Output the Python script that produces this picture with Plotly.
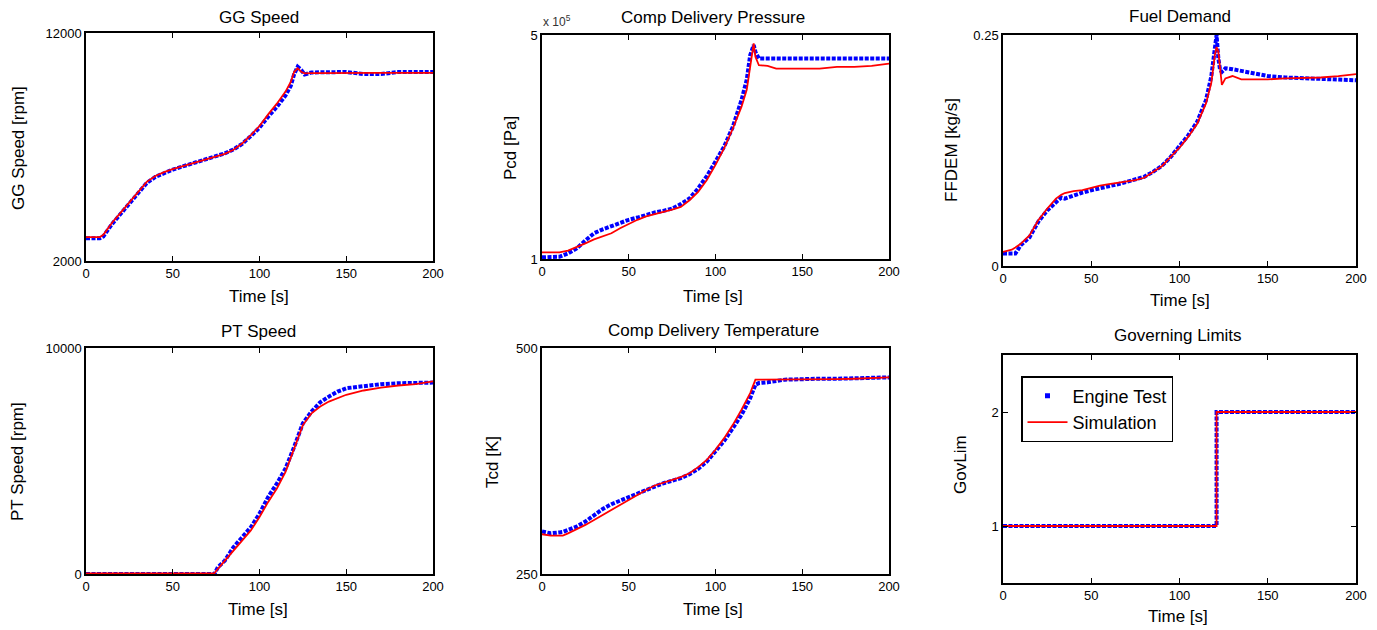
import plotly.graph_objects as go

# ---------------- data ----------------
t_gg = [0, 5, 8, 10, 15, 20, 25, 30, 35, 40, 45, 50, 55, 60, 65, 70, 75, 80, 85, 90, 95, 100,
        105, 110, 115, 118, 120, 122, 124, 126, 130, 140, 150, 160, 170, 180, 190, 200]
gg_test = [3000, 3000, 3000, 3080, 3620, 4070, 4520, 4960, 5420, 5690, 5870, 6010, 6130, 6250,
           6370, 6480, 6580, 6720, 6890, 7140, 7480, 7850, 8330, 8760, 9260, 9680, 10200, 10520,
           10380, 10180, 10270, 10290, 10290, 10200, 10200, 10290, 10290, 10290]
gg_sim = [3050, 3050, 3050, 3150, 3680, 4120, 4570, 5010, 5470, 5730, 5900, 6030, 6140, 6250,
          6360, 6460, 6560, 6700, 6880, 7150, 7520, 7920, 8430, 8900, 9430, 9850, 10300, 10450,
          10300, 10230, 10240, 10250, 10250, 10250, 10250, 10250, 10250, 10250]

t_pcd = [0, 5, 10, 15, 20, 25, 30, 35, 40, 45, 50, 55, 60, 65, 70, 75, 80, 85, 90, 95, 100, 105,
         110, 115, 118, 120, 122, 123, 125, 130, 135, 140, 150, 160, 170, 180, 190, 200]
pcd_test = [1.03, 1.03, 1.04, 1.10, 1.19, 1.33, 1.46, 1.53, 1.59, 1.65, 1.70, 1.74, 1.79, 1.83,
            1.86, 1.90, 1.98, 2.08, 2.26, 2.48, 2.74, 3.01, 3.36, 3.84, 4.20, 4.64, 4.82, 4.70,
            4.58, 4.58, 4.57, 4.57, 4.57, 4.58, 4.57, 4.58, 4.58, 4.58]
pcd_sim = [1.12, 1.12, 1.12, 1.15, 1.21, 1.28, 1.35, 1.41, 1.46, 1.55, 1.63, 1.70, 1.76, 1.80,
           1.83, 1.88, 1.93, 2.05, 2.20, 2.41, 2.68, 2.98, 3.33, 3.72, 4.02, 4.43, 4.85, 4.61,
           4.46, 4.45, 4.40, 4.40, 4.40, 4.40, 4.43, 4.43, 4.45, 4.49]

t_fuel = [0, 5, 7, 10, 15, 20, 25, 30, 33, 35, 40, 45, 50, 55, 60, 65, 70, 75, 80, 85, 90, 95, 100,
          105, 110, 115, 118, 120, 121, 122, 123, 124, 126, 130, 135, 140, 150, 160, 170, 180, 190, 200]
fuel_test = [0.0134, 0.0134, 0.0134, 0.0224, 0.031, 0.048, 0.060, 0.069, 0.074, 0.073, 0.0766,
             0.0795, 0.082, 0.0838, 0.0863, 0.0885, 0.091, 0.0936, 0.0965, 0.1019, 0.1084, 0.118,
             0.129, 0.1416, 0.156, 0.1795, 0.205, 0.237, 0.25, 0.225, 0.212, 0.210, 0.214, 0.213,
             0.211, 0.209, 0.2056, 0.204, 0.203, 0.2023, 0.201, 0.201]
fuel_sim = [0.0152, 0.0177, 0.020, 0.024, 0.033, 0.0495, 0.062, 0.073, 0.077, 0.079, 0.081, 0.082,
            0.0845, 0.087, 0.0885, 0.090, 0.0915, 0.093, 0.0955, 0.102, 0.108, 0.118, 0.128, 0.140,
            0.154, 0.176, 0.198, 0.228, 0.237, 0.232, 0.215, 0.196, 0.203, 0.2056, 0.202, 0.202,
            0.202, 0.203, 0.2035, 0.204, 0.2056, 0.2077]

t_pt = [0, 25, 50, 70, 74, 76, 80, 85, 90, 95, 100, 105, 110, 115, 120, 125, 130, 135, 140, 145,
        150, 160, 170, 180, 190, 200]
pt_test = [0, 0, 0, 0, 0, 300, 590, 1185, 1630, 2070, 2670, 3410, 4000, 4670, 5630, 6670, 7190,
           7600, 7850, 8070, 8220, 8330, 8400, 8440, 8470, 8470]
pt_sim = [30, 30, 30, 30, 30, 230, 590, 1040, 1440, 1930, 2520, 3190, 3780, 4520, 5560, 6590, 7110,
          7410, 7630, 7780, 7930, 8120, 8250, 8340, 8400, 8520]

t_tcd = [0, 5, 10, 12, 15, 20, 25, 30, 35, 40, 45, 50, 55, 60, 65, 70, 75, 80, 85, 90, 95, 100,
         105, 110, 115, 120, 123, 125, 130, 140, 150, 160, 170, 180, 190, 200]
tcd_test = [297, 295, 296, 296.5, 298.7, 302.4, 308, 315.4, 322, 327.2, 331.2, 335.7, 339.4, 343,
            346.7, 350.4, 353.4, 356, 360.4, 366.3, 374.4, 385.5, 397.3, 411.4, 426.1, 444.6,
            459.4, 461.2, 462, 465, 466, 466, 466, 466.8, 467, 467.5]
tcd_sim = [294, 292.5, 292.5, 292.5, 295, 299.5, 304.3, 309.8, 315.4, 321, 326.4, 332, 337.5, 343,
           347.9, 351.2, 354.1, 357.1, 361.5, 368.2, 376.3, 387.4, 400.3, 415, 431.7, 450.1, 465,
           465, 465, 465, 465, 465, 465.5, 466, 466.8, 467.5]

t_gov = [0, 121, 200]
gov_test = [1, 2, 2]
gov_sim = [1, 2, 2]

x_ticks = [0, 50, 100, 150, 200]

# ---------------- layout helpers ----------------
W, H = 1377, 630
FONT = "Liberation Sans, Arial, sans-serif"


def px(x):
    return x / W


def py(y):
    return 1 - y / H


panels = [
    dict(box=(86, 33, 433, 261), t=t_gg, a=gg_test, b=gg_sim, yr=[2000, 12000],
         yt=[2000, 12000], ytt=["2000", "12000"], title="GG Speed", tpos=(259, 17),
         xl=(259, 296), ylab="GG Speed [rpm]", ylpos=(18, 148)),
    dict(box=(542, 35, 889, 259), t=t_pcd, a=pcd_test, b=pcd_sim, yr=[1, 5],
         yt=[1, 5], ytt=["1", "5"], title="Comp Delivery Pressure", tpos=(713, 17),
         xl=(713, 296), ylab="Pcd [Pa]", ylpos=(510, 148)),
    dict(box=(1003, 35, 1356, 266), t=t_fuel, a=fuel_test, b=fuel_sim, yr=[0, 0.25],
         yt=[0, 0.25], ytt=["0", "0.25"], title="Fuel Demand", tpos=(1180, 16),
         xl=(1180, 300), ylab="FFDEM [kg/s]", ylpos=(951, 150)),
    dict(box=(86, 348, 433, 574), t=t_pt, a=pt_test, b=pt_sim, yr=[0, 10000],
         yt=[0, 10000], ytt=["0", "10000"], title="PT Speed", tpos=(258, 331),
         xl=(258, 609), ylab="PT Speed [rpm]", ylpos=(18, 462)),
    dict(box=(542, 348, 889, 574), t=t_tcd, a=tcd_test, b=tcd_sim, yr=[250, 500],
         yt=[250, 500], ytt=["250", "500"], title="Comp Delivery Temperature", tpos=(713, 330),
         xl=(713, 609), ylab="Tcd [K]", ylpos=(493, 462)),
    dict(box=(1003, 355, 1356, 583), t=t_gov, a=gov_test, b=gov_sim, yr=[0.5, 2.5],
         yt=[1, 2], ytt=["1", "2"], title="Governing Limits", tpos=(1178, 335),
         xl=(1178, 616), ylab="GovLim", ylpos=(960, 465)),
]

fig = go.Figure()

# legend-only entry for the engine test markers
fig.add_trace(go.Scatter(x=[None], y=[None], mode="markers", name="Engine Test",
                         marker=dict(color="#0000ff", size=5, symbol="square"),
                         xaxis="x6", yaxis="y6", showlegend=True))

annotations = []
for i, p in enumerate(panels, start=1):
    xa = "x" if i == 1 else f"x{i}"
    ya = "y" if i == 1 else f"y{i}"
    shape = "hv" if i == 6 else "linear"
    fig.add_trace(go.Scatter(x=p["t"], y=p["a"], mode="lines", name="Engine Test",
                             line=dict(color="#0000ff", width=4, dash="4px,1.5px", shape=shape),
                             xaxis=xa, yaxis=ya, showlegend=False))
    fig.add_trace(go.Scatter(x=p["t"], y=p["b"], mode="lines", name="Simulation",
                             line=dict(color="#ff0000", width=1.8, shape=shape),
                             xaxis=xa, yaxis=ya, showlegend=(i == 6)))
    l, t, r, b = p["box"]
    axis_common = dict(showline=True, linecolor="black", linewidth=1.5, mirror="ticks",
                       ticks="inside", ticklen=5, tickcolor="black", showgrid=False,
                       zeroline=False, automargin=False,
                       tickfont=dict(family=FONT, size=13, color="black"))
    fig.layout[f"xaxis{'' if i == 1 else i}"] = dict(
        domain=[px(l), px(r)], anchor=ya, range=[0, 200], tickvals=x_ticks,
        ticktext=[str(v) for v in x_ticks], **axis_common)
    fig.layout[f"yaxis{'' if i == 1 else i}"] = dict(
        domain=[py(b), py(t)], anchor=xa, range=p["yr"], tickvals=p["yt"],
        ticktext=p["ytt"], **axis_common)
    annotations.append(dict(text=p["title"], x=px(p["tpos"][0]), y=py(p["tpos"][1]),
                            xref="paper", yref="paper", showarrow=False,
                            xanchor="center", yanchor="middle",
                            font=dict(family=FONT, size=17, color="black")))
    annotations.append(dict(text="Time [s]", x=px(p["xl"][0]), y=py(p["xl"][1]),
                            xref="paper", yref="paper", showarrow=False,
                            xanchor="center", yanchor="middle",
                            font=dict(family=FONT, size=17, color="black")))
    annotations.append(dict(text=p["ylab"], x=px(p["ylpos"][0]), y=py(p["ylpos"][1]),
                            xref="paper", yref="paper", showarrow=False, textangle=-90,
                            xanchor="center", yanchor="middle",
                            font=dict(family=FONT, size=17, color="black")))

annotations.append(dict(text="x 10<sup>5</sup>", x=px(541), y=py(21), xref="paper", yref="paper",
                        showarrow=False, xanchor="left", yanchor="middle",
                        font=dict(family=FONT, size=12, color="#333333")))

fig.update_layout(
    width=W, height=H, margin=dict(l=0, r=0, t=0, b=0, autoexpand=False),
    paper_bgcolor="white", plot_bgcolor="white",
    annotations=annotations,
    hovermode=False,
    legend=dict(x=px(1021), y=py(376), xanchor="left", yanchor="top",
                bgcolor="white", bordercolor="black", borderwidth=1.5,
                font=dict(family=FONT, size=18, color="black"),
                itemwidth=40, tracegroupgap=0),
)

fig.write_html("out.html", config={"displayModeBar": False},
               post_script="document.body.style.margin='0';document.body.style.overflow='hidden';")
